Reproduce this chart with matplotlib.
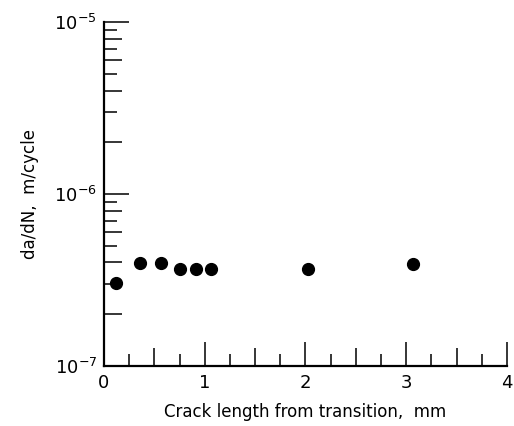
import numpy as np
import matplotlib
matplotlib.use("Agg")
import matplotlib.pyplot as plt
from matplotlib.ticker import FixedLocator, FuncFormatter

plt.rcParams['font.family'] = ['DejaVu Sans']

# Data
crack_length = [0.12, 0.36, 0.57, 0.75, 0.91, 1.06, 2.02, 3.07]
growth_rate = [3.03e-7, 3.98e-7, 3.98e-7, 3.66e-7, 3.66e-7, 3.66e-7, 3.66e-7, 3.93e-7]

x_labels = [0, 1, 2, 3, 4]
decades = [1e-7, 1e-6, 1e-5]

fig = plt.figure(figsize=(5.14, 4.26), dpi=100)
ax = fig.add_axes([0.2023, 0.1416, 0.7841, 0.8064])

ax.plot(crack_length, growth_rate, 'o', color='black', markersize=8.5)

ax.set_yscale('log')
ax.set_xlim(0, 4)
ax.set_ylim(1e-7, 1e-5)

for side in ['top', 'right']:
    ax.spines[side].set_visible(False)
for side in ['left', 'bottom']:
    ax.spines[side].set_linewidth(1.6)

# x ticks: integers long, halves medium, quarters short
x_major = np.arange(0, 4.01, 0.5)
x_minor = np.arange(0.25, 4, 0.5)
ax.xaxis.set_major_locator(FixedLocator(x_major))
ax.xaxis.set_minor_locator(FixedLocator(x_minor))
ax.xaxis.set_major_formatter(FuncFormatter(
    lambda v, p: f"{int(v)}" if abs(v - round(v)) < 1e-6 else ""))

# y ticks: decades long, even multiples medium, odd multiples short
y_major = []
y_minor = []
for d in decades[:-1]:
    y_major += [d, 2 * d, 4 * d, 6 * d, 8 * d]
    y_minor += [3 * d, 5 * d, 7 * d, 9 * d]
y_major.append(decades[-1])
ax.yaxis.set_major_locator(FixedLocator(y_major))
ax.yaxis.set_minor_locator(FixedLocator(y_minor))
ax.yaxis.set_major_formatter(FuncFormatter(
    lambda v, p: r"$10^{%d}$" % round(np.log10(v))
    if abs(np.log10(v) - round(np.log10(v))) < 1e-6 else ""))
ax.yaxis.set_minor_formatter(FuncFormatter(lambda v, p: ""))

ax.tick_params(which='major', direction='in', length=13, width=1.1,
               labelsize=13, colors='black')
ax.tick_params(which='minor', direction='in', length=9, width=1.1)
ax.tick_params(axis='x', which='major', pad=6)
ax.tick_params(axis='y', which='major', pad=5)

for t, v in zip(ax.xaxis.get_major_ticks(len(x_major)), x_major):
    if abs(v - round(v)) < 1e-6:
        t.tick1line.set_markersize(17)
for t, v in zip(ax.yaxis.get_major_ticks(len(y_major)), y_major):
    if abs(np.log10(v) - round(np.log10(v))) < 1e-6:
        t.tick1line.set_markersize(18)

ax.set_xlabel("Crack length from transition,  mm", fontsize=12, labelpad=8)
ax.set_ylabel("da/dN,  m/cycle", fontsize=12, labelpad=11)

fig.savefig("out.png", dpi=100, facecolor='white')
